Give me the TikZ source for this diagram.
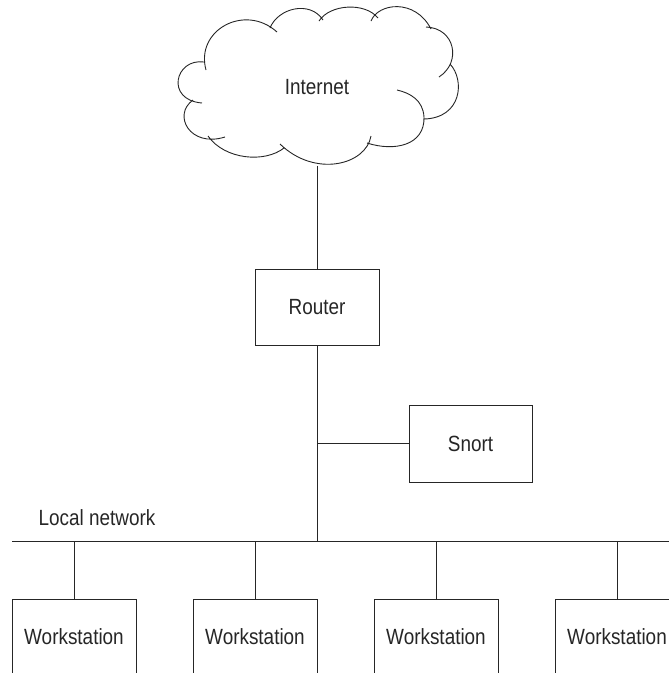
\documentclass[tikz,border=0pt]{standalone}
\usepackage{fontspec}
\setmainfont{Liberation Sans}[FakeStretch=0.86]
\begin{document}
\begin{tikzpicture}[x=1pt,y=-1pt,
  box/.style={draw=black!85, line width=0.9pt, minimum width=124pt, minimum height=76pt, inner sep=0pt,
    font=\fontsize{22}{26}\selectfont, text=black!85},
  lbl/.style={font=\fontsize{22}{26}\selectfont, text=black!85, inner sep=0pt},
  wire/.style={line width=0.9pt, draw=black!85}]
\useasboundingbox (0,0) rectangle (669,673);
\clip (0,0) rectangle (669,673);
% cloud
\draw[wire]
  (206,70) .. controls (195,30) and (245,3) .. (277,32)
  (270,28) .. controls (278,8) and (310,0) .. (323,20)
  (319,21) .. controls (330,4) and (365,2) .. (378,18)
  (371,21) .. controls (378,3) and (415,-2) .. (431,29)
  (426,27) .. controls (455,28) and (462,62) .. (439,77)
  (450,64) .. controls (465,80) and (462,118) .. (424,119)
  (367,143) .. controls (395,152) and (425,145) .. (424,117)
  .. controls (423,100) and (410,93) .. (397,90)
  (371,136) .. controls (366,165) and (315,178) .. (280,144)
  (208,136) .. controls (225,160) and (265,163) .. (284,148)
  (193,100) .. controls (172,115) and (190,148) .. (225,137)
  (204,62) .. controls (175,58) and (165,100) .. (202,103);
\node[lbl] (internet) at (317,87) {Internet};
\coordinate (cloudbot) at (317,165.5);
% router and snort
\node[box] (router) at (317,307) {Router};
\node[box, minimum width=123pt, minimum height=77pt] (snort) at (470.5,443.5) {Snort};
\coordinate (tap) at (317,443.5);
% local network
\coordinate (lanL) at (12,541);
\coordinate (lanR) at (669,541);
\coordinate (lanC) at (317,541);
\node[lbl, anchor=base west] (lanlabel) at (38.5,525) {Local network};
% workstations
\node[box] (ws1) at (74,637) {Workstation};
\node[box] (ws2) at (255,637) {Workstation};
\node[box] (ws3) at (436,637) {Workstation};
\node[box] (ws4) at (617,637) {Workstation};
\coordinate (t1) at (74,541);
\coordinate (t2) at (255,541);
\coordinate (t3) at (436,541);
\coordinate (t4) at (617,541);
% connectors
\draw[wire] (cloudbot) -- (router.north);
\draw[wire] (router.south) -- (lanC);
\draw[wire] (tap) -- (snort.west);
\draw[wire] (lanL) -- (lanR);
\draw[wire] (t1) -- (ws1.north);
\draw[wire] (t2) -- (ws2.north);
\draw[wire] (t3) -- (ws3.north);
\draw[wire] (t4) -- (ws4.north);
\end{tikzpicture}
\end{document}
